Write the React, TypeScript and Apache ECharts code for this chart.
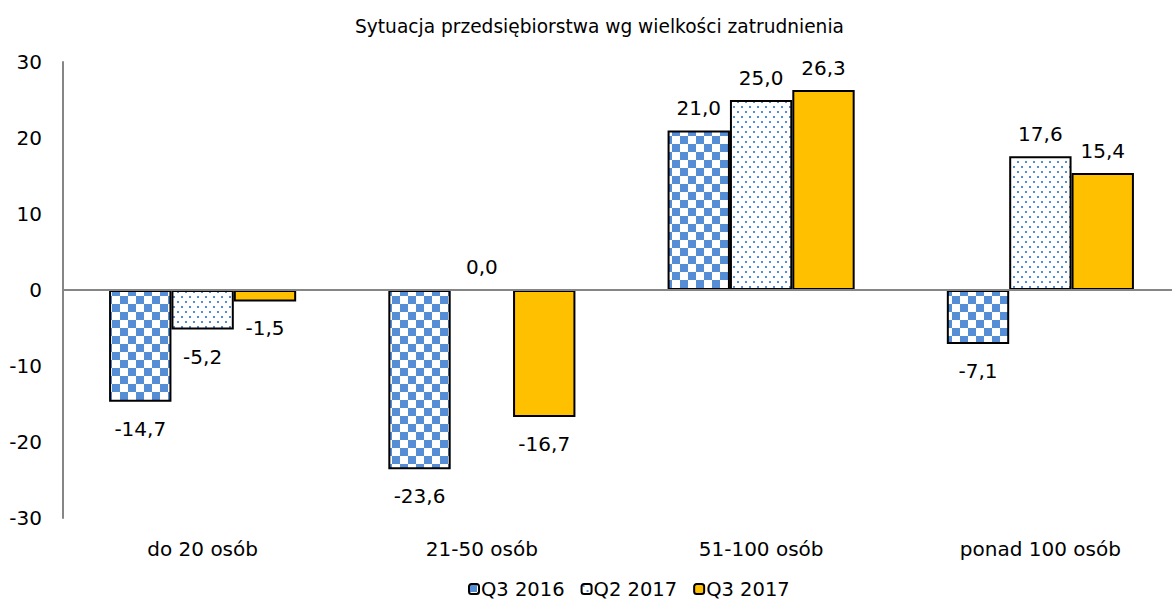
import React, { useEffect, useRef } from "react";
import * as echarts from "echarts";

const title = "Sytuacja przedsiębiorstwa wg wielkości zatrudnienia";
const categories = ["do 20 osób", "21-50 osób", "51-100 osób", "ponad 100 osób"];
const seriesNames = ["Q3 2016", "Q2 2017", "Q3 2017"];
const q3_2016 = [-14.7, -23.6, 21.0, -7.1];
const q2_2017 = [-5.2, 0.0, 25.0, 17.6];
const q3_2017 = [-1.5, -16.7, 26.3, 15.4];
const yTicks = { min: -30, max: 30, interval: 10 };

const FONT = "DejaVu Sans";
const BLUE = "#558ED5";

function checkerCanvas(): HTMLCanvasElement {
  const c = document.createElement("canvas");
  c.width = 16;
  c.height = 16;
  const ctx = c.getContext("2d")!;
  ctx.fillStyle = "#ffffff";
  ctx.fillRect(0, 0, 16, 16);
  ctx.fillStyle = BLUE;
  ctx.fillRect(0, 0, 8, 8);
  ctx.fillRect(8, 8, 8, 8);
  return c;
}

function dotCanvas(): HTMLCanvasElement {
  const c = document.createElement("canvas");
  c.width = 8;
  c.height = 10;
  const ctx = c.getContext("2d")!;
  ctx.fillStyle = "#ffffff";
  ctx.fillRect(0, 0, 8, 10);
  ctx.fillStyle = BLUE;
  ctx.fillRect(1, 1, 2, 2);
  ctx.fillRect(5, 6, 2, 2);
  return c;
}

const fmt = (v: number) => v.toFixed(1).replace(".", ",");

export default function App() {
  const ref = useRef<HTMLDivElement>(null);
  useEffect(() => {
    if (!ref.current) return;
    const chart = echarts.init(ref.current, undefined, { renderer: "svg" });
    const fills: any[] = [
      { image: checkerCanvas(), repeat: "repeat" },
      { image: dotCanvas(), repeat: "repeat" },
      "#FFC000",
    ];
    const datas = [q3_2016, q2_2017, q3_2017];
    const series: any[] = datas.map((d, i) => ({
      name: seriesNames[i],
      type: "bar",
      barGap: "0%",
      barCategoryGap: "33%",
      itemStyle: { color: fills[i], borderColor: "#000000", borderWidth: 2 },
      label: {
        show: true,
        position: "top",
        distance: 12,
        formatter: (p: any) => fmt(p.value),
        fontFamily: FONT,
        fontSize: 20,
        color: "#000000",
      },
      data: d.map((v) => ({
        value: v,
        label: v < 0 ? { position: "bottom", distance: 17 } : { position: "top", distance: 12 },
      })),
      markLine:
        i === 0
          ? {
              silent: true,
              symbol: "none",
              label: { show: false },
              lineStyle: { color: "#868686", width: 2, type: "solid" },
              data: [{ yAxis: 0 }],
            }
          : undefined,
      z: 3,
    }));
    chart.setOption({
      animation: false,
      title: {
        text: title,
        left: 350,
        top: 12,
        textStyle: { fontFamily: FONT, fontSize: 18.6, fontWeight: "normal", color: "#000000" },
      },
      legend: {
        bottom: 1,
        left: 463,
        itemWidth: 10,
        itemHeight: 10,
        itemGap: 16,
        data: seriesNames,
        textStyle: { fontFamily: FONT, fontSize: 19.5, color: "#000000", padding: [0, 0, 0, -3] },
      },
      grid: { left: 63, right: 10, top: 62, bottom: 87, containLabel: false },
      xAxis: {
        type: "category",
        data: categories,
        axisLine: { show: false },
        axisTick: { show: false },
        axisLabel: { fontFamily: FONT, fontSize: 20, color: "#000000", margin: 21 },
      },
      yAxis: {
        type: "value",
        min: yTicks.min,
        max: yTicks.max,
        interval: yTicks.interval,
        axisLine: { show: true, lineStyle: { color: "#868686", width: 2 } },
        axisTick: { show: false },
        splitLine: { show: false },
        axisLabel: { fontFamily: FONT, fontSize: 20, color: "#000000", margin: 21 },
      },
      series,
    });
    return () => chart.dispose();
  }, []);
  return (
    <div
      style={{
        position: "fixed",
        left: 0,
        top: 0,
        width: 1172,
        height: 605,
        overflow: "hidden",
        background: "#ffffff",
      }}
    >
      <div ref={ref} style={{ width: 1190, height: 605 }} />
    </div>
  );
}
